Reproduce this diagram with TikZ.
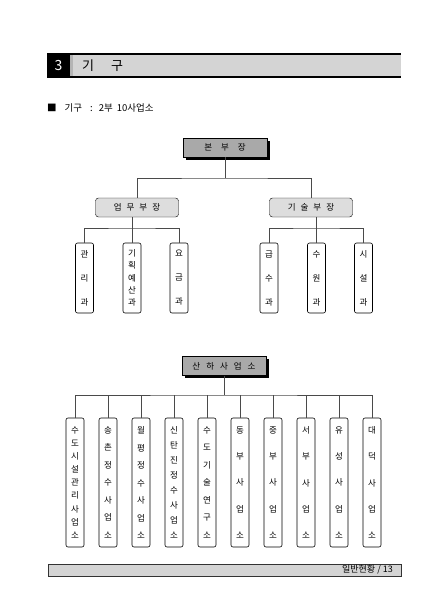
\documentclass[tikz,border=0pt]{standalone}
\usepackage{fontspec}
\setmainfont{Noto Sans CJK KR}
\definecolor{barGray}{HTML}{D4D4D4}
\definecolor{stripGray}{HTML}{B4B4B4}
\definecolor{headGray}{HTML}{A9A9A9}
\definecolor{deptGray}{HTML}{DDDDDD}
\definecolor{wireGray}{HTML}{4A4A4A}
\usetikzlibrary{calc, positioning, shadows}

\tikzset{
  headbox/.style={draw=black, fill=headGray, minimum width=84pt, minimum height=19pt, inner sep=0pt,
    font=\fontsize{8.5}{10}\selectfont, drop shadow={shadow xshift=2.5pt, shadow yshift=-2.5pt, fill=black, opacity=1}},
  deptbox/.style={draw=black, fill=deptGray, rounded corners=3pt, minimum width=83pt, minimum height=19pt,
    inner sep=0pt, font=\fontsize{8.5}{10}\selectfont},
  unitbox/.style={draw=black, fill=white, rounded corners=2pt, minimum width=18pt, inner sep=0pt,
    line width=0.6pt, align=center, font=\fontsize{8.5}{10}\selectfont},
  wire/.style={draw=wireGray, line width=0.7pt}
}

\begin{document}
\begin{tikzpicture}[x=1pt, y=-1pt]
  \useasboundingbox[fill=white] (0,0) rectangle (445,611);

  % section heading
  \fill[black] (47,54) rectangle (70,77);
  \fill[barGray] (70,54) rectangle (401,77);
  \fill[stripGray] (70,54) rectangle (73,77);
  \draw[line width=1.2pt] (47,54) -- (401,54);
  \draw[line width=1.2pt] (47,77) -- (401,77);
  \node[text=white, font=\fontsize{14}{16}\selectfont] (secnum) at (58.5,65.5) {3};
  \node[anchor=west, inner sep=0pt, font=\fontsize{13}{15}\selectfont] (sectitle) at (82,65.5) {기\hspace{17pt}구};

  \node[anchor=west, inner sep=0pt, font=\fontsize{9.5}{11}\selectfont] (summary) at (47,108) {■\hspace{8pt}기구\hspace{8pt}:\hspace{6pt}2부\hspace{4pt}10사업소};

  % head office
  \node[headbox] (bonbu) at (225,147.5) {본\hspace{9pt}부\hspace{9pt}장};
  \node[deptbox] (upmu) at (137,207.5) {업\hspace{5pt}무\hspace{5pt}부\hspace{5pt}장};
  \node[deptbox] (gisul) at (311,207.5) {기\hspace{5pt}술\hspace{5pt}부\hspace{5pt}장};

  \node[unitbox, minimum height=70pt] (gwalli) at (84.5,278) {관\\[14pt]리\\[14pt]과};
  \node[unitbox, minimum height=70pt] (gihoek) at (132,278) {기\\[2.25pt]획\\[2.25pt]예\\[2.25pt]산\\[2.25pt]과};
  \node[unitbox, minimum height=70pt] (yogeum) at (179,278) {요\\[14pt]금\\[14pt]과};
  \node[unitbox, minimum height=70pt] (geupsu) at (269,278) {급\\[14pt]수\\[14pt]과};
  \node[unitbox, minimum height=70pt] (suwon) at (316.5,278) {수\\[14pt]원\\[14pt]과};
  \node[unitbox, minimum height=70pt] (siseol) at (363.5,278) {시\\[14pt]설\\[14pt]과};

  \coordinate (bus1) at (225,178);
  \coordinate (bus2) at (132,228);
  \coordinate (bus3) at (316.5,228);
  \draw[wire] (bonbu.south) -- (bus1);
  \draw[wire] (upmu.north) |- (bus1) -| (gisul.north);
  \draw[wire] (gihoek.north) -- (gihoek.north |- upmu.south);
  \draw[wire] (gwalli.north) |- (bus2) -| (yogeum.north);
  \draw[wire] (suwon.north) -- (suwon.north |- gisul.south);
  \draw[wire] (geupsu.north) |- (bus3) -| (siseol.north);

  % branch offices
  \node[headbox] (sanha) at (224,366) {산\hspace{6pt}하\hspace{6pt}사\hspace{6pt}업\hspace{6pt}소};

  \node[unitbox, minimum height=129pt] (sudo) at (75,482.5) {수\\[3.1pt]도\\[3.1pt]시\\[3.1pt]설\\[3.1pt]관\\[3.1pt]리\\[3.1pt]사\\[3.1pt]업\\[3.1pt]소};
  \node[unitbox, minimum height=129pt] (songchon) at (108,482.5) {송\\[7.5pt]촌\\[7.5pt]정\\[7.5pt]수\\[7.5pt]사\\[7.5pt]업\\[7.5pt]소};
  \node[unitbox, minimum height=129pt] (wolpyeong) at (141,482.5) {월\\[7.5pt]평\\[7.5pt]정\\[7.5pt]수\\[7.5pt]사\\[7.5pt]업\\[7.5pt]소};
  \node[unitbox, minimum height=129pt] (sintan) at (174,482.5) {신\\[5pt]탄\\[5pt]진\\[5pt]정\\[5pt]수\\[5pt]사\\[5pt]업\\[5pt]소};
  \node[unitbox, minimum height=129pt] (yeongu) at (207,482.5) {수\\[7.5pt]도\\[7.5pt]기\\[7.5pt]술\\[7.5pt]연\\[7.5pt]구\\[7.5pt]소};
  \node[unitbox, minimum height=129pt] (dongbu) at (240,482.5) {동\\[16.25pt]부\\[16.25pt]사\\[16.25pt]업\\[16.25pt]소};
  \node[unitbox, minimum height=129pt] (jungbu) at (273,482.5) {중\\[16.25pt]부\\[16.25pt]사\\[16.25pt]업\\[16.25pt]소};
  \node[unitbox, minimum height=129pt] (seobu) at (306,482.5) {서\\[16.25pt]부\\[16.25pt]사\\[16.25pt]업\\[16.25pt]소};
  \node[unitbox, minimum height=129pt] (yuseong) at (339,482.5) {유\\[16.25pt]성\\[16.25pt]사\\[16.25pt]업\\[16.25pt]소};
  \node[unitbox, minimum height=129pt] (daedeok) at (372,482.5) {대\\[16.25pt]덕\\[16.25pt]사\\[16.25pt]업\\[16.25pt]소};

  \coordinate (bus4) at (224,395);
  \draw[wire] (sanha.south) -- (bus4);
  \draw[wire] (sudo.north) |- (bus4) -| (daedeok.north);
  \foreach \u in {songchon, wolpyeong, sintan, yeongu, dongbu, jungbu, seobu, yuseong}
    \draw[wire] (\u.north) -- (\u.north |- bus4);

  % page footer
  \draw[fill=barGray, draw=black!80, line width=0.7pt] (48,564) rectangle (401,576);
  \node[anchor=east, inner sep=0pt, font=\fontsize{9}{10}\selectfont] (pageno) at (393,570) {일반현황 / 13};
\end{tikzpicture}
\end{document}
